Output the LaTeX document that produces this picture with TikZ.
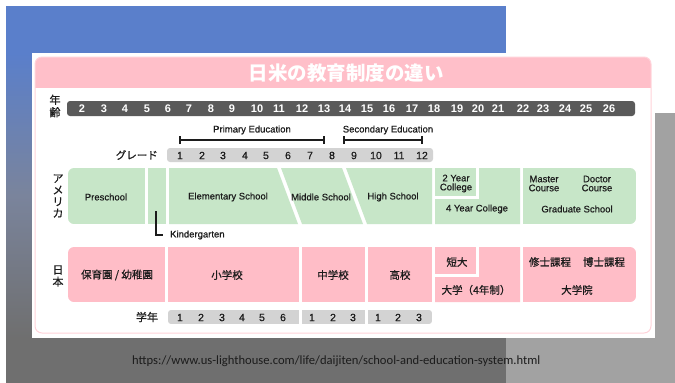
\documentclass[tikz,border=0pt]{standalone}
\usepackage{fontspec}
\setmainfont{Liberation Sans}
\newfontfamily\enm{Liberation Sans}[FakeBold=0.6]
\newfontfamily\jp{Noto Sans CJK JP}
\newfontfamily\jpm{Noto Sans CJK JP}[FakeBold=0.8]
\newfontfamily\urlf{Carlito}
\definecolor{bgblue}{HTML}{5A7FCB}
\definecolor{bgmid}{HTML}{7A849C}
\definecolor{bgdark}{HTML}{6F6F6F}
\definecolor{bglight}{HTML}{A2A2A2}
\definecolor{cardline}{HTML}{FFD3DA}
\definecolor{pinkhead}{HTML}{FFBFC9}
\definecolor{pinkbox}{HTML}{FFBDC7}
\definecolor{greenbox}{HTML}{C7E6C8}
\definecolor{darkbar}{HTML}{5A5A5A}
\definecolor{lightbar}{HTML}{D3D3D3}
\definecolor{txt}{HTML}{1C1C1C}
\tikzset{
  en/.style={font=\enm\fontsize{9.5}{10.5}\selectfont, text=txt, inner sep=0pt, align=center},
  jpl/.style={font=\jpm\fontsize{10.5}{11.5}\selectfont, text=txt, inner sep=0pt, align=center},
  side/.style={font=\jpm\fontsize{11}{12}\selectfont, text=txt, inner sep=0pt, align=center},
  agenum/.style={font=\bfseries\fontsize{11}{12}\selectfont, text=white, inner sep=0pt},
  grnum/.style={font=\enm\fontsize{10.5}{12}\selectfont, text=txt, inner sep=0pt},
  brk/.style={line width=1.1pt, draw=txt},
}
\begin{document}
\begin{tikzpicture}[x=1pt,y=-1pt]
\useasboundingbox (0,0) rectangle (675,383);
\fill[white] (0,0) rectangle (675,383);
% background
\fill[bgblue] (6,6) rectangle (506,53);
\shade[top color=bgblue, bottom color=bgdark, middle color=bgmid] (6,53) rectangle (32,338);
\fill[bgdark] (6,338) rectangle (506,383);
\fill[bglight] (506,338) rectangle (675,383);
\fill[bglight] (655,113) rectangle (675,338);
\fill[white] (32,53) rectangle (655,338);
% card
\fill[white, rounded corners=7] (35,57) rectangle (651,333);
\begin{scope}
  \clip[rounded corners=7] (35,57) rectangle (651,333);
  \fill[pinkhead] (35,57) rectangle (651,88);
\end{scope}
\draw[cardline, line width=1pt, rounded corners=7] (35,57) rectangle (651,333);
\node[font=\jp\bfseries\fontsize{19.5}{20}\selectfont, text=white, inner sep=0] (title) at (346,73) {日米の教育制度の違い};
% age bar
\node[side, font=\jpm\fontsize{11}{12.5}\selectfont] (agelbl) at (55,106) {年\\齢};
\fill[darkbar, rounded corners=3] (67,101) rectangle (635,116);
\foreach \a/\x in {2/82,3/104,4/125,5/147,6/168,7/189,8/211,9/232,10/257,11/279,12/302,13/324,14/345,15/367,16/389,17/412,18/434,19/457,20/478,21/498,22/523,23/543,24/565,25/586,26/609}
  \node[agenum] (age\a) at (\x,108.5) {\a};
% brackets
\node[en] (pe) at (252,130) {Primary Education};
\node[en] (se) at (388,130) {Secondary Education};
\coordinate (pe1) at (180,140); \coordinate (pe2) at (324,140);
\coordinate (se1) at (344,140); \coordinate (se2) at (422,140);
\draw[brk] (pe1) -- (pe2);
\draw[brk] ([yshift=-4]pe1) -- ([yshift=4]pe1);
\draw[brk] ([yshift=-4]pe2) -- ([yshift=4]pe2);
\draw[brk] (se1) -- (se2);
\draw[brk] ([yshift=-4]se1) -- ([yshift=4]se1);
\draw[brk] ([yshift=-4]se2) -- ([yshift=4]se2);
% grade bar
\node[jpl, anchor=east] (grlbl) at (158,155) {グレード};
\fill[lightbar, rounded corners=3] (167,148) rectangle (433,162);
\foreach \g/\x in {1/180,2/202,3/223,4/245,5/266,6/288,7/310,8/332,9/354,10/376,11/399,12/422}
  \node[grnum] (gr\g) at (\x,155.5) {\g};
% USA row
\node[side, font=\jpm\fontsize{11}{11.6}\selectfont] (usa) at (58,196) {ア\\メ\\リ\\カ};
\begin{scope}
  \clip[rounded corners=6] (68,168) rectangle (636,224);
  \fill[greenbox] (68,168) rectangle (145,224);
  \fill[greenbox] (148,168) rectangle (166,224);
  \fill[greenbox] (169,168) -- (277,168) -- (298,224) -- (169,224) -- cycle;
  \fill[greenbox] (281,168) -- (342,168) -- (363,224) -- (302,224) -- cycle;
  \fill[greenbox] (346,168) -- (432,168) -- (432,224) -- (367,224) -- cycle;
  \fill[greenbox] (435,168) rectangle (476,196);
  \fill[greenbox] (479,168) -- (520,168) -- (520,224) -- (435,224) -- (435,199) -- (479,199) -- cycle;
  \fill[greenbox] (523,168) rectangle (636,224);
\end{scope}
\node[en] (presch) at (106,197) {Preschool};
\node[en] (elem) at (228,197) {Elementary School};
\node[en] (mid) at (321,197) {Middle School};
\node[en] (high) at (393,197) {High School};
\node[en, font=\enm\fontsize{9.5}{9}\selectfont] (twoy) at (456,183.5) {2 Year\\College};
\node[en] (foury) at (477,209) {4 Year College};
\node[en, font=\enm\fontsize{9.5}{9}\selectfont] (master) at (544,183.5) {Master\\Course};
\node[en, font=\enm\fontsize{9.5}{9}\selectfont] (doctor) at (597,183.5) {Doctor\\Course};
\node[en] (grad) at (577,209) {Graduate School};
\coordinate (kgtop) at (156,211);
\node[en, anchor=west] (kg) at (170,235) {Kindergarten};
\draw[line width=1.2pt, draw=txt] (kgtop) |- ([xshift=-7]kg.west);
% Japan row
\node[side, font=\jpm\fontsize{11}{12}\selectfont] (japan) at (58,276) {日\\本};
\begin{scope}
  \clip[rounded corners=6] (68,247) rectangle (636,302);
  \fill[pinkbox] (68,247) rectangle (165,302);
  \fill[pinkbox] (168,247) rectangle (299,302);
  \fill[pinkbox] (302,247) rectangle (365,302);
  \fill[pinkbox] (368,247) rectangle (432,302);
  \fill[pinkbox] (435,247) rectangle (476,274);
  \fill[pinkbox] (479,247) -- (520,247) -- (520,302) -- (435,302) -- (435,277) -- (479,277) -- cycle;
  \fill[pinkbox] (523,247) rectangle (636,302);
\end{scope}
\node[jpl] (hoiku) at (117,275) {保育園 / 幼稚園};
\node[jpl] (sho) at (227,275) {小学校};
\node[jpl] (chu) at (333,275) {中学校};
\node[jpl] (ko) at (400,275) {高校};
\node[jpl] (tandai) at (457,262) {短大};
\node[jpl] (daigaku) at (476,290) {大学（4年制）};
\node[jpl] (shushi) at (550,262) {修士課程};
\node[jpl] (hakushi) at (604,262) {博士課程};
\node[jpl] (daigakuin) at (577,290) {大学院};
% school year bar
\node[jpl, font=\jpm\fontsize{11}{12}\selectfont] (gakunen) at (147,317) {学年};
\begin{scope}
  \clip[rounded corners=3] (168,310) rectangle (432,324);
  \fill[lightbar] (168,310) rectangle (299,324);
  \fill[lightbar] (302,310) rectangle (365,324);
  \fill[lightbar] (368,310) rectangle (432,324);
\end{scope}
\foreach \n/\g/\x in {a/1/180,b/2/201,c/3/222,d/4/242,e/5/262,f/6/283,g/1/312,h/2/333,i/3/353,j/1/378,k/2/398,l/3/419}
  \node[grnum] (sy\n) at (\x,317.5) {\g};
% URL
\node[font=\urlf\fontsize{12.6}{13}\selectfont, text=txt, inner sep=0, anchor=west] (url) at (132,361) {https://www.us-lighthouse.com/life/daijiten/school-and-education-system.html};
\end{tikzpicture}
\end{document}
